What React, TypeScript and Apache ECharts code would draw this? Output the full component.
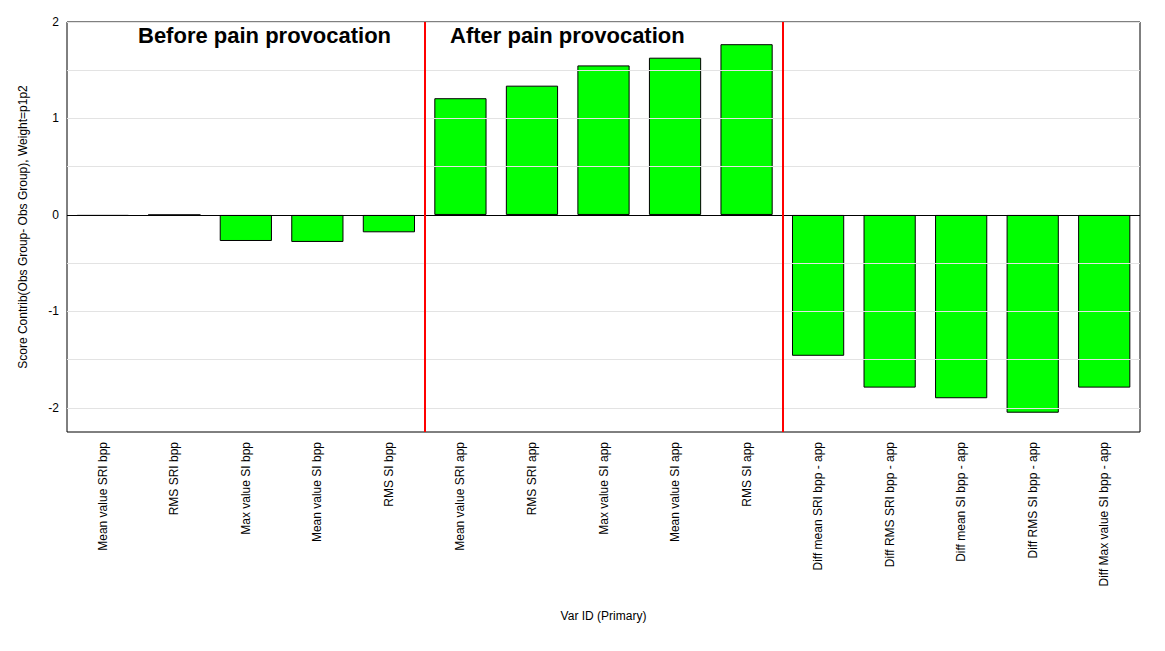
import { useEffect, useRef } from "react";
import * as echarts from "echarts";

const categories = [
  "Mean value SRI bpp",
  "RMS SRI bpp",
  "Max value SI bpp",
  "Mean value SI bpp",
  "RMS SI bpp",
  "Mean value SRI app",
  "RMS SRI app",
  "Max value SI app",
  "Mean value SI app",
  "RMS SI app",
  "Diff mean SRI bpp - app",
  "Diff RMS SRI bpp - app",
  "Diff mean SI bpp - app",
  "Diff RMS SI bpp - app",
  "Diff Max value SI bpp - app",
];
const scoreValues = [
  -0.01, 0.0, -0.27, -0.28, -0.18, 1.21, 1.34, 1.55, 1.63, 1.77, -1.46, -1.79,
  -1.9, -2.05, -1.79,
];
const gridValues = [-2, -1.5, -1, -0.5, 0.5, 1, 1.5, 2];
const dividers = [4.5, 9.5];

export default function App() {
  const ref = useRef<HTMLDivElement>(null);

  useEffect(() => {
    if (!ref.current) return;
    const chart = echarts.init(ref.current, undefined, { renderer: "svg" });
    const font = "Arial, 'Liberation Sans', sans-serif";
    chart.setOption({
      animation: false,
      textStyle: { fontFamily: font },
      grid: {
        left: 67,
        right: 25,
        top: 22,
        bottom: 219,
        show: true,
        borderColor: "#000",
        borderWidth: 1,
      },
      xAxis: [
        {
          type: "category",
          data: categories,
          name: "Var ID (Primary)",
          nameLocation: "middle",
          nameGap: 178,
          nameTextStyle: { color: "#000", fontSize: 12, fontFamily: font },
          axisLine: { show: false },
          axisTick: { show: false },
          axisLabel: {
            rotate: 90,
            interval: 0,
            color: "#000",
            fontSize: 12,
            margin: 10,
            fontFamily: font,
          },
        },
        {
          type: "value",
          min: -0.5,
          max: 14.5,
          show: false,
        },
      ],
      yAxis: {
        type: "value",
        min: -2.25,
        max: 2,
        interval: 0.25,
        name: "Score Contrib(Obs Group- Obs Group), Weight=p1p2",
        nameLocation: "middle",
        nameGap: 38,
        nameTextStyle: { color: "#000", fontSize: 12, fontFamily: font },
        splitLine: { show: false },
        axisLine: { show: false },
        axisTick: { show: false },
        axisLabel: {
          color: "#000",
          fontSize: 12,
          fontFamily: font,
          formatter: (v: number) => (Number.isInteger(v) ? String(v) : ""),
        },
      },
      series: [
        {
          type: "bar",
          data: scoreValues,
          barWidth: "73%",
          itemStyle: { color: "#00ff00", borderColor: "#000", borderWidth: 1 },
          markLine: {
            silent: true,
            symbol: "none",
            label: { show: false },
            data: [
              ...gridValues.map((v) => ({
                yAxis: v,
                lineStyle: { color: "#e3e3e3", width: 1, type: "solid" },
              })),
              { yAxis: 0, lineStyle: { color: "#000", width: 1, type: "solid" } },
            ],
          },
          z: 3,
        },
        {
          type: "line",
          xAxisIndex: 1,
          data: [],
          markLine: {
            silent: true,
            symbol: "none",
            label: { show: false },
            lineStyle: { color: "#ff0000", width: 2, type: "solid" },
            data: dividers.map((v) => ({ xAxis: v })),
          },
        },
      ],
      graphic: [
        {
          type: "text",
          left: 138,
          top: 24,
          style: {
            text: "Before pain provocation",
            font: `bold 22px ${font}`,
            fill: "#000",
          },
        },
        {
          type: "text",
          left: 450,
          top: 24,
          style: {
            text: "After pain provocation",
            font: `bold 22px ${font}`,
            fill: "#000",
          },
        },
      ],
    });
    return () => chart.dispose();
  }, []);

  return (
    <div
      ref={ref}
      style={{ width: 1165, height: 651, position: "absolute", left: 0, top: 0, background: "#fff" }}
    />
  );
}
